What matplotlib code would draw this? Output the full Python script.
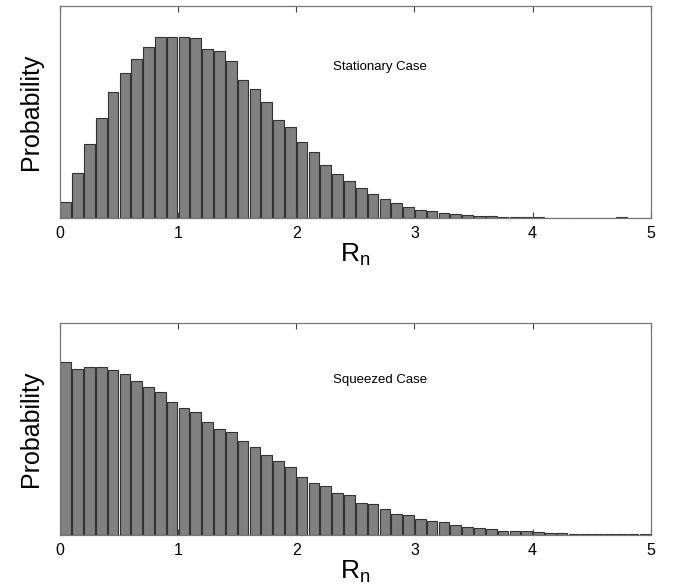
import numpy as np
import matplotlib
matplotlib.use("Agg")
import matplotlib.pyplot as plt

plt.rcParams['font.family'] = ['Liberation Sans', 'DejaVu Sans']

# bin left edges, width 0.1, from 0 to 5
bin_edges = np.round(np.arange(0, 5.0, 0.1), 2)

# relative probability (arbitrary units)
stationary = [15.6, 44.3, 74.0, 100.0, 125.3, 144.0, 158.3, 170.0, 180.3, 180.3,
              180.3, 179.0, 168.0, 166.3, 156.7, 137.3, 128.7, 115.0, 98.0, 90.3,
              75.7, 66.0, 53.0, 43.7, 37.0, 29.7, 23.7, 19.3, 14.7, 11.3,
              8.0, 7.0, 4.7, 4.0, 3.0, 2.3, 1.7, 1.3, 1.0, 1.0,
              0.6, 0.5, 0.5, 0.5, 0.5, 0.5, 0.5, 0.6, 0.2, 0.2]

squeezed = [172.0, 165.3, 167.7, 167.3, 164.3, 160.0, 153.3, 147.0, 142.0, 132.7,
            126.3, 122.0, 112.7, 106.0, 103.0, 94.0, 88.0, 80.0, 74.0, 67.7,
            57.7, 51.7, 49.0, 42.0, 39.7, 32.3, 31.0, 26.3, 21.3, 19.7,
            15.7, 14.0, 12.7, 10.0, 8.3, 7.0, 6.0, 4.3, 4.0, 3.7,
            2.7, 2.3, 2.0, 1.3, 1.3, 1.0, 1.0, 1.0, 0.7, 0.7]

labels = ['Stationary Case', 'Squeezed Case']
xticks = [0, 1, 2, 3, 4, 5]

fig = plt.figure(figsize=(6.73, 5.87), dpi=100)
ax1 = fig.add_axes([0.089, 0.6286, 0.878, 0.3612])
ax2 = fig.add_axes([0.089, 0.0886, 0.878, 0.3611])

for ax, data, lab, ty in [(ax1, stationary, labels[0], 0.71),
                          (ax2, squeezed, labels[1], 0.73)]:
    # small white gap between neighbouring bars
    ax.bar(bin_edges + 0.005, data, width=0.09, align='edge', color='#808080',
           edgecolor='#333333', linewidth=0.8)
    ax.set_xlim(0, 5)
    ax.set_ylim(0, 211)
    ax.set_yticks([])
    ax.set_xticks(xticks)
    ax.tick_params(axis='x', direction='in', top=True, length=4,
                   labelsize=11.5, pad=6, color='#444444')
    for s in ax.spines.values():
        s.set_color('#777777')
        s.set_linewidth(0.9)
    ax.set_ylabel('Probability', fontsize=18, labelpad=12)
    ax.set_xlabel('R$_\\mathregular{n}$', fontsize=19, labelpad=0)
    ax.text(2.31, ty, lab, transform=ax.get_xaxis_transform(),
            fontsize=9.5, va='center', ha='left')

fig.savefig('out.png', dpi=100)
